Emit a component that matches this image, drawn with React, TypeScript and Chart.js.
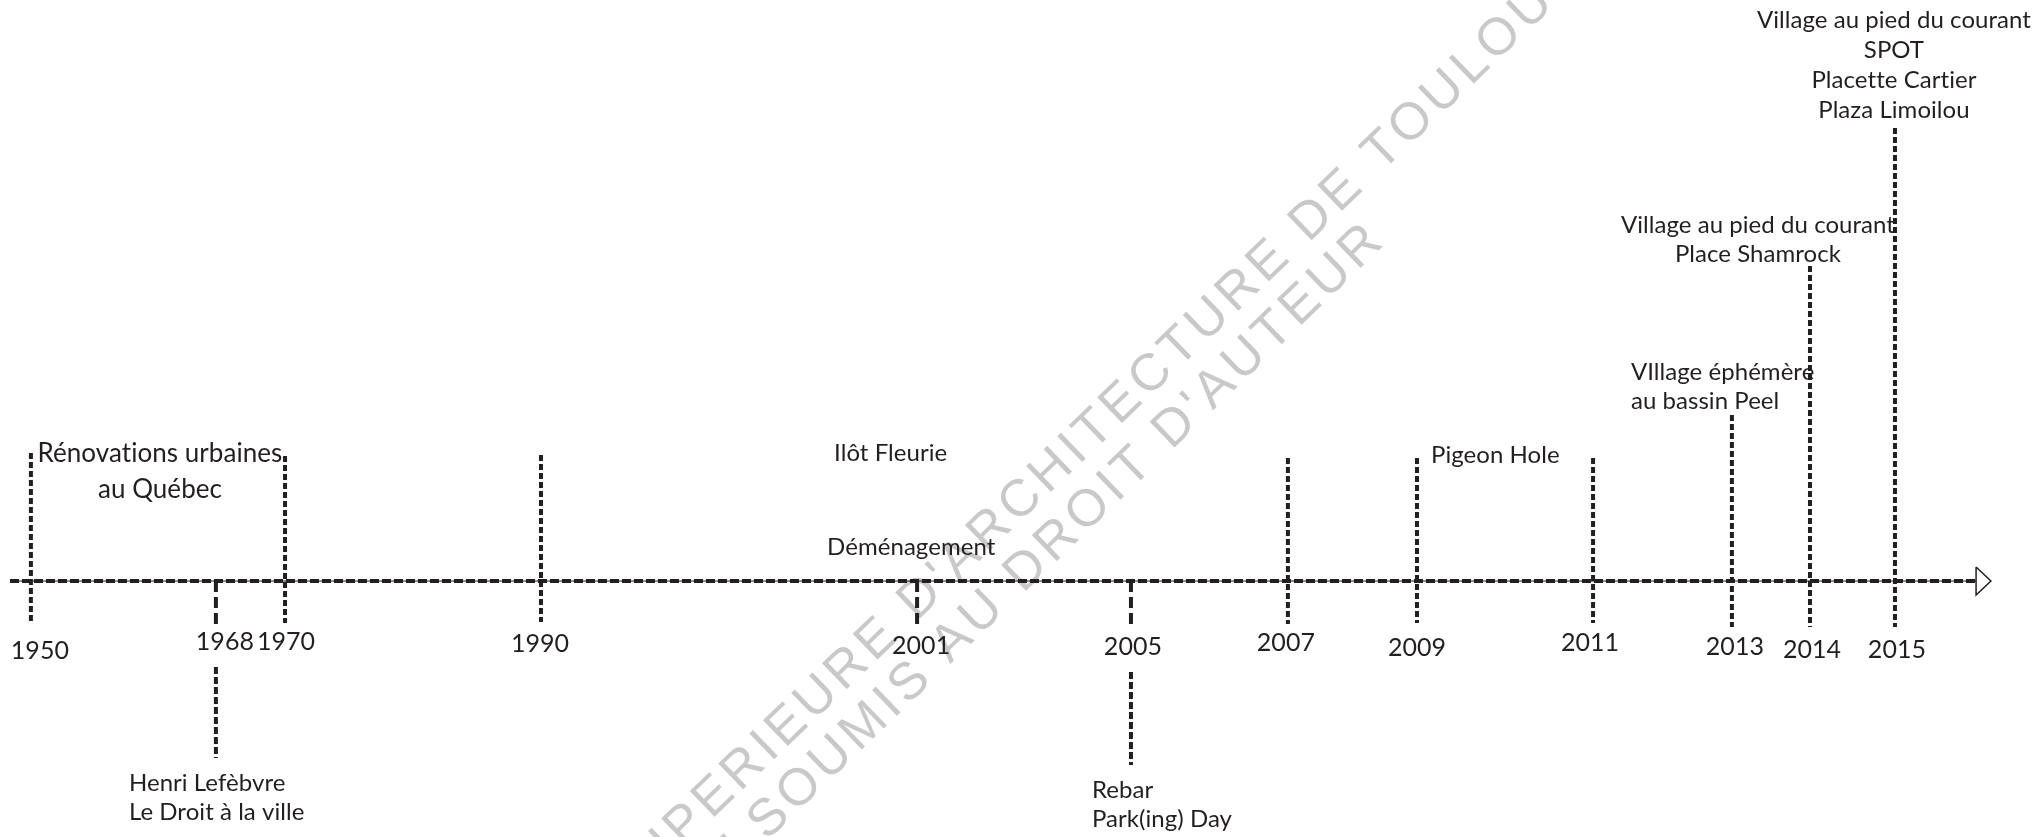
import React, { useEffect, useRef } from 'react';
import { Chart, registerables } from 'chart.js';

Chart.register(...registerables);

const INK = '#231f20';
const W = 2033;
const H = 837;

// ---- data ----
const years = ['1950', '1968', '1970', '1990', '2001', '2005', '2007', '2009', '2011', '2013', '2014', '2015'];
// position of each year along the (non-linear) timeline, in % of the timeline width
const timelinePos = [1.52, 10.62, 14.02, 26.61, 45.11, 55.63, 63.35, 69.7, 78.36, 85.19, 89.03, 93.21];
// marker extent above (+) / below (-) the axis, in level units
const markerTop = [128, 0, 125, 126, 0, 0, 123, 123, 123, 166, 315, 453];
const markerBottom = [-42, -45, -42, -41, -46, -46, -43, -42, -42, -46, -46, -46];
// second marker segment under the year label (pointing to a note)
const lowerStart = [null, -86, null, null, null, -91, null, null, null, null, null, null];
const lowerEnd = [null, -177, null, null, null, -184, null, null, null, null, null, null];

const eventLabels = [
  ['Rénovations urbaines', 'au Québec'],
  ['Henri Lefèbvre', 'Le Droit à la ville'],
  ['Ilôt Fleurie'],
  ['Déménagement'],
  ['Rebar', 'Park(ing) Day'],
  ['Pigeon Hole'],
  ['VIllage éphémère', 'au bassin Peel'],
  ['Village au pied du courant', 'Place Shamrock'],
  ['Village au pied du courant', 'SPOT', 'Placette Cartier', 'Plaza Limoilou'],
];

// ---- layout (kept apart from the data) ----
const axisFrom = 0.49;
const axisTo = 97.2;
const arrowTip = 97.93;
const arrowHalf = 14;
const yearLabelDx = [9, 9, 1, -1, 4, 2, -2, 0, -3, 3, 2, 2];
const yearLabelLevel = [-70, -61, -61, -63, -65, -66, -62, -67, -62, -66, -69, -69];
const eventLayout = [
  { events: [0, 2], dx: 2, level: 127, gap: 36, align: 'center', size: 26 },
  { events: [1], dx: -87, level: -202, gap: 29, align: 'left', size: 24 },
  { events: [4], dx: -83, level: 128, gap: 29, align: 'left', size: 24 },
  { events: [4], dx: -90, level: 34, gap: 29, align: 'left', size: 24 },
  { events: [5], dx: -39, level: -209, gap: 29, align: 'left', size: 24 },
  { events: [7], dx: 14, level: 126, gap: 29, align: 'left', size: 24 },
  { events: [9], dx: -101, level: 209, gap: 29, align: 'left', size: 24 },
  { events: [10], dx: -52, level: 356, gap: 29, align: 'center', size: 24 },
  { events: [11], dx: -1, level: 561, gap: 30, align: 'center', size: 24 },
];

const seg = (x: number, y0: number, y1: number, dash: number[], width = 4) => ({
  data: [
    { x, y: y0 },
    { x, y: y1 },
  ],
  showLine: true,
  borderColor: INK,
  borderWidth: width,
  borderDash: dash,
  borderCapStyle: 'butt',
  pointRadius: 0,
  fill: false,
  tension: 0,
});

const watermarkPlugin = {
  id: 'watermark',
  beforeDatasetsDraw(chart: any) {
    const { ctx } = chart;
    ctx.save();
    ctx.fillStyle = '#c9c9c9';
    ctx.font = '52px "Liberation Sans"';
    (ctx as any).letterSpacing = '5px';
    ctx.textBaseline = 'middle';
    const ang = (-44 * Math.PI) / 180;
    const lines = [
      { ax: 907, ay: 611, pre: 'ECOLE NATIONALE SUPERIEURE ', post: "D'ARCHITECTURE DE TOULOUSE" },
      { ax: 940, ay: 654, pre: 'DOCUMENT SOUMIS ', post: "AU DROIT D'AUTEUR" },
    ];
    lines.forEach((l) => {
      ctx.save();
      ctx.translate(l.ax, l.ay);
      ctx.rotate(ang);
      ctx.textAlign = 'left';
      ctx.fillText(l.post, 0, 0);
      const w = ctx.measureText(l.pre).width;
      ctx.fillText(l.pre, -w, 0);
      ctx.restore();
    });
    ctx.restore();
  },
};

const labelsPlugin = {
  id: 'timelineLabels',
  afterDatasetsDraw(chart: any) {
    const { ctx } = chart;
    const xs = chart.scales.x;
    const ys = chart.scales.y;
    ctx.save();
    ctx.fillStyle = INK;
    ctx.textBaseline = 'middle';
    (ctx as any).letterSpacing = '0.05px';
    ctx.font = '25px Lato';
    ctx.textAlign = 'center';
    years.forEach((yr, i) => {
      ctx.fillText(yr, xs.getPixelForValue(timelinePos[i]) + yearLabelDx[i], ys.getPixelForValue(yearLabelLevel[i]));
    });
    eventLabels.forEach((lines, k) => {
      const L = eventLayout[k];
      const ax =
        L.events.reduce((s, e) => s + xs.getPixelForValue(timelinePos[e]), 0) / L.events.length + L.dx;
      ctx.font = `${L.size}px Lato`;
      ctx.textAlign = L.align;
      lines.forEach((t, j) => {
        ctx.fillText(t, ax, ys.getPixelForValue(L.level - j * L.gap));
      });
    });
    ctx.restore();
  },
};

export default function App() {
  const ref = useRef<HTMLCanvasElement | null>(null);
  useEffect(() => {
    document.body.style.margin = '0';
    document.body.style.overflow = 'hidden';
    if (!ref.current) return;
    const datasets: any[] = [];
    // axis: hairline + dashes
    const hair = seg(0, 0, 0, [], 1);
    hair.data = [
      { x: axisFrom, y: 0 },
      { x: axisTo, y: 0 },
    ];
    datasets.push(hair);
    const dashed = seg(0, 0, 0, [9, 3], 4);
    dashed.data = [
      { x: axisFrom, y: 0 },
      { x: axisTo, y: 0 },
    ];
    datasets.push(dashed);
    // arrow head
    datasets.push({
      data: [
        { x: axisTo, y: arrowHalf },
        { x: arrowTip, y: 0 },
        { x: axisTo, y: -arrowHalf },
        { x: axisTo, y: arrowHalf },
      ],
      showLine: true,
      borderColor: INK,
      borderWidth: 1.5,
      borderJoinStyle: 'miter',
      pointRadius: 0,
      fill: false,
      tension: 0,
    });
    years.forEach((_, i) => {
      const fromAxis = markerTop[i] === 0;
      datasets.push(seg(timelinePos[i], markerTop[i], markerBottom[i], fromAxis ? [11, 5] : [6, 3]));
      if (lowerStart[i] !== null) {
        datasets.push(seg(timelinePos[i], lowerStart[i] as number, lowerEnd[i] as number, [7, 3]));
      }
    });
    const chart = new Chart(ref.current, {
      type: 'scatter',
      data: { datasets },
      options: {
        animation: false,
        responsive: false,
        maintainAspectRatio: false,
        events: [],
        layout: { padding: 0 },
        plugins: {
          legend: { display: false },
          tooltip: { enabled: false },
          title: { display: false },
        },
        scales: {
          x: { type: 'linear', min: 0, max: 100, display: false },
          y: { type: 'linear', min: -256, max: 581, display: false },
        },
      } as any,
      plugins: [watermarkPlugin, labelsPlugin],
    });
    return () => chart.destroy();
  }, []);
  return (
    <div style={{ position: 'absolute', left: 0, top: 0, width: W, height: H, background: '#fff' }}>
      <canvas ref={ref} width={W} height={H} style={{ display: 'block' }} />
    </div>
  );
}
